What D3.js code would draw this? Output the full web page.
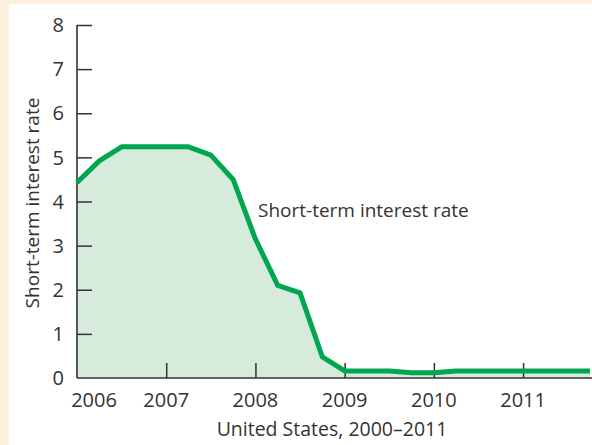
<!DOCTYPE html>
<html>
<head>
<meta charset="utf-8">
<script src="https://cdn.jsdelivr.net/npm/d3@7"></script>
<style>
  html, body { margin: 0; padding: 0; background: #fdf0dc; }
  svg { display: block; }
  text { font-family: "Open Sans", "DejaVu Sans", sans-serif; fill: #333; }
</style>
</head>
<body>
<svg id="chart" width="592" height="445"></svg>
<script>
// Quarterly short-term interest rate, United States (percent)
const quarters = [2006, 2006.25, 2006.5, 2006.75, 2007, 2007.25, 2007.5, 2007.75,
                  2008, 2008.25, 2008.5, 2008.75, 2009, 2009.25, 2009.5, 2009.75,
                  2010, 2010.25, 2010.5, 2010.75, 2011, 2011.25, 2011.5, 2011.75];
const rates = [4.43, 4.92, 5.24, 5.24, 5.24, 5.24, 5.05, 4.50,
               3.15, 2.10, 1.93, 0.48, 0.16, 0.16, 0.16, 0.12,
               0.12, 0.16, 0.16, 0.16, 0.16, 0.16, 0.16, 0.16];
const yearTicks = [2006, 2007, 2008, 2009, 2010, 2011];
const rateTicks = [0, 1, 2, 3, 4, 5, 6, 7, 8];
const yTitle = "Short-term interest rate";
const xTitle = "United States, 2000\u20132011";
const seriesLabel = "Short-term interest rate";

const svg = d3.select("#chart");
const W = 592, H = 445;

// white panel on the cream page
svg.append("rect").attr("x", 9).attr("y", 4).attr("width", W - 9).attr("height", H - 4).attr("fill", "#ffffff");

const x = d3.scaleLinear().domain([2006, 2011.75]).range([77, 590]);
const y = d3.scaleLinear().domain([0, 8]).range([378, 25]);

const data = quarters.map((q, i) => ({ q, v: rates[i] }));

// shaded area under the rate
svg.append("path")
  .datum(data)
  .attr("fill", "#d6ebdc")
  .attr("d", d3.area().x(d => x(d.q)).y0(y(0)).y1(d => y(d.v)));

// axes
const axisColor = "#333";
const yAxis = svg.append("g")
  .attr("transform", `translate(${x(2006)},0)`)
  .call(d3.axisRight(y).tickValues(rateTicks).tickSize(15).tickFormat(""));
yAxis.select(".domain").remove();
yAxis.selectAll(".tick line").attr("stroke", axisColor).attr("stroke-width", 1.5)
  .filter(d => d === 0).remove();
svg.append("line").attr("x1", x(2006)).attr("x2", x(2006)).attr("y1", y(8)).attr("y2", y(0))
  .attr("stroke", axisColor).attr("stroke-width", 1.6);

svg.append("g").selectAll("text").data(rateTicks).join("text")
  .attr("x", 64).attr("y", d => y(d)).attr("dy", "0.36em")
  .attr("text-anchor", "end").attr("font-size", 20).text(d => d);

const xAxis = svg.append("g")
  .attr("transform", `translate(0,${y(0)})`)
  .call(d3.axisTop(x).tickValues(yearTicks.slice(1)).tickSize(15).tickFormat(""));
xAxis.select(".domain").remove();
xAxis.selectAll(".tick line").attr("stroke", axisColor).attr("stroke-width", 1.5);
svg.append("line").attr("x1", x(2006)).attr("x2", W).attr("y1", y(0)).attr("y2", y(0))
  .attr("stroke", axisColor).attr("stroke-width", 1.6);

svg.append("g").selectAll("text").data(yearTicks).join("text")
  .attr("x", d => x(d) + (d === 2006 ? 17 : 0)).attr("y", 407)
  .attr("text-anchor", "middle").attr("font-size", 20).text(d => d);

// rate line
svg.append("path")
  .datum(data)
  .attr("fill", "none")
  .attr("stroke", "#00a650")
  .attr("stroke-width", 5)
  .attr("stroke-linejoin", "round")
  .attr("d", d3.line().x(d => x(d.q)).y(d => y(d.v)));

// titles and series label
svg.append("text").attr("x", 332).attr("y", 436).attr("text-anchor", "middle")
  .attr("font-size", 19.5).text(xTitle);
svg.append("text").attr("transform", "translate(39,203) rotate(-90)")
  .attr("text-anchor", "middle").attr("font-size", 19).text(yTitle);
svg.append("text").attr("x", 258).attr("y", 217).attr("font-size", 19).text(seriesLabel);
</script>
</body>
</html>
